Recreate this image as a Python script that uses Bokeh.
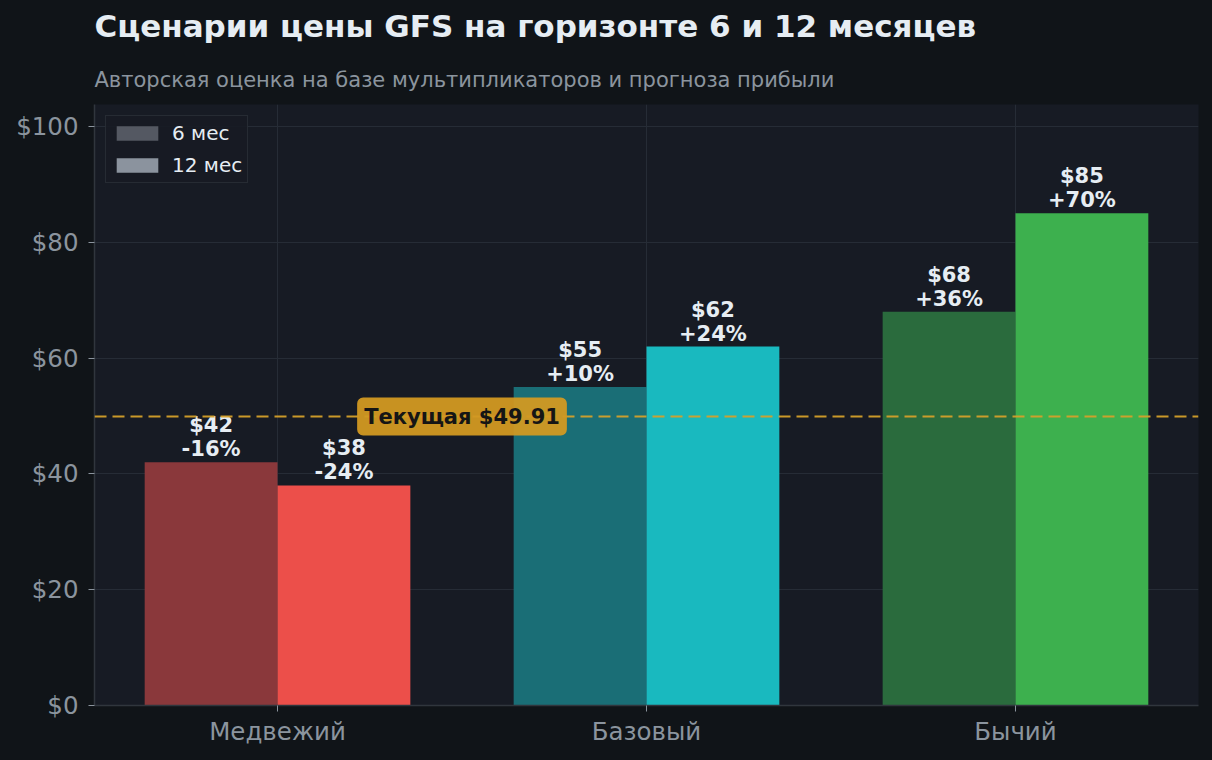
from bokeh.plotting import figure
from bokeh.models import (ColumnDataSource, Range1d, FixedTicker, Span, Label,
                          Title, NumeralTickFormatter, Legend, LegendItem)
from bokeh.core.properties import value
from bokeh.transform import dodge
from bokeh.embed import file_html
from bokeh.resources import INLINE

# ---- data ----
scenarios = ["Медвежий", "Базовый", "Бычий"]
price_6m = [42, 55, 68]
price_12m = [38, 62, 85]
current_price = 49.91
colors_6m = ["#8a383b", "#1a6e76", "#2a6b3d"]
colors_12m = ["#ec4f4a", "#19b9bf", "#3db04e"]
legend_labels = ["6 мес", "12 мес"]
legend_colors = ["#545862", "#8b939e"]
y_ticks = [0, 20, 40, 60, 80, 100]

FONT = "DejaVu Sans"
BG_OUT = "#101418"
BG_PLOT = "#171b24"
TXT = "#e6edf3"
MUTED = "#8b949e"

idx = list(range(len(scenarios)))

def pct(v):
    c = round((v / current_price - 1) * 100)
    return f"{c:+d}%"

src6 = ColumnDataSource(dict(
    x=idx, top=price_6m, color=colors_6m,
    plab=[f"${v}" for v in price_6m], clab=[pct(v) for v in price_6m]))
src12 = ColumnDataSource(dict(
    x=idx, top=price_12m, color=colors_12m,
    plab=[f"${v}" for v in price_12m], clab=[pct(v) for v in price_12m]))

W = 0.36
p = figure(width=1196, height=756, output_backend="svg", toolbar_location=None,
           x_range=Range1d(-0.496, 2.496), y_range=Range1d(0, 103.8),
           background_fill_color=BG_PLOT, border_fill_color=BG_OUT,
           outline_line_color=None,
           min_border_left=86, min_border_right=6, min_border_top=96, min_border_bottom=47)

p.title.text = "Сценарии цены GFS на горизонте 6 и 12 месяцев"
p.title.text_font = FONT
p.title.text_font_size = "31px"
p.title.text_font_style = "bold"
p.title.text_color = TXT
p.title.align = "left"
p.title.standoff = 18
p.add_layout(Title(text="Авторская оценка на базе мультипликаторов и прогноза прибыли",
                   text_font=FONT, text_font_size="21px", text_font_style="normal",
                   text_color=MUTED, align="left", standoff=26), "above")

p.vbar(x=dodge("x", -W / 2, range=p.x_range), top="top", width=W, bottom=0,
       fill_color="color", line_color=None, source=src6)
p.vbar(x=dodge("x", W / 2, range=p.x_range), top="top", width=W, bottom=0,
       fill_color="color", line_color=None, source=src12)

for s, off in ((src6, -W / 2), (src12, W / 2)):
    xd = dodge("x", off, range=p.x_range)
    p.text(x=xd, y="top", text="clab", source=s, y_offset=-13,
           text_align="center", text_baseline="alphabetic",
           text_font=value(FONT), text_font_size="21px", text_font_style="bold",
           text_color=TXT)
    p.text(x=xd, y="top", text="plab", source=s, y_offset=-37,
           text_align="center", text_baseline="alphabetic",
           text_font=value(FONT), text_font_size="21px", text_font_style="bold",
           text_color=TXT)

# legend proxy renderers (no visible data)
nan = float("nan")
proxies = [p.vbar(x=[nan], top=[nan], width=W, fill_color=c, line_color=None)
           for c in legend_colors]
legend = Legend(items=[LegendItem(label=l, renderers=[r])
                       for l, r in zip(legend_labels, proxies)],
                location="top_left", margin=11, padding=5, spacing=8,
                glyph_width=52, glyph_height=18, label_height=24, label_standoff=9,
                label_text_font=FONT, label_text_font_size="20px", label_text_color=TXT,
                background_fill_color=BG_PLOT, background_fill_alpha=0.9,
                border_line_color="#353b44", border_line_width=1.5)
p.add_layout(legend)

span = Span(location=current_price, dimension="width", line_color="#d4a02a",
            line_width=2.2, line_dash="12 6", line_alpha=0.95)
p.add_layout(span)

lab = Label(x=0.5, y=current_price, text=f"Текущая ${current_price}",
            text_align="center", text_baseline="middle",
            text_font=FONT, text_font_size="21px", text_font_style="bold",
            text_color="#151515", background_fill_color="#d29922",
            background_fill_alpha=0.95, padding=7, border_radius=6)
p.add_layout(lab)

# axes
p.xaxis.ticker = FixedTicker(ticks=idx)
p.xaxis.major_label_overrides = {i: s for i, s in enumerate(scenarios)}
p.yaxis.ticker = FixedTicker(ticks=y_ticks)
p.yaxis.formatter = NumeralTickFormatter(format="$0")
for ax in (p.xaxis, p.yaxis):
    ax.axis_line_color = "#30363d"
    ax.axis_line_width = 1.5
    ax.major_tick_line_color = MUTED
    ax.major_tick_out = 6
    ax.major_tick_in = 0
    ax.minor_tick_line_color = None
    ax.major_label_text_font = FONT
    ax.major_label_text_font_size = "24.5px"
    ax.major_label_text_color = MUTED
p.yaxis.major_label_standoff = 10
p.xaxis.major_label_standoff = 5

p.xgrid.ticker = FixedTicker(ticks=idx)
p.grid.grid_line_color = "#262c36"
p.grid.grid_line_width = 1

template = """
{% block postamble %}
<style>html { background: #101418; margin: 0; } body { background: #101418; margin: -4px 8px 8px 8px; }</style>
{% endblock %}
"""
open("out.html", "w").write(file_html(p, INLINE, "chart", template=template))
